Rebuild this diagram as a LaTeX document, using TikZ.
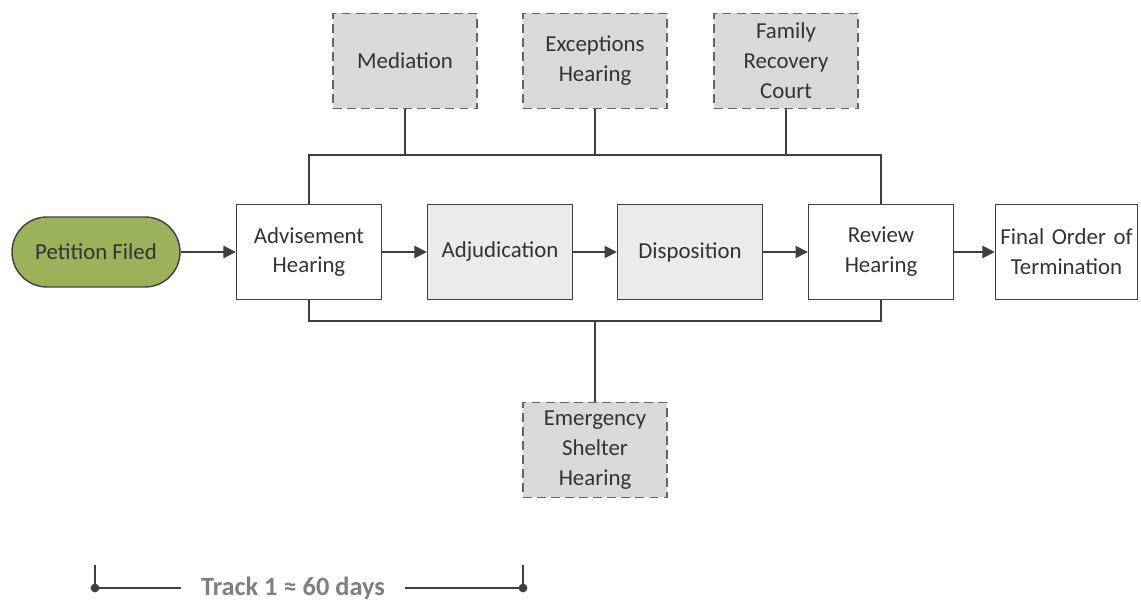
\documentclass[tikz,border=0pt]{standalone}
\usepackage{fontspec}
\setmainfont{Carlito}
\definecolor{petgreen}{RGB}{155, 178, 90}
\definecolor{linegray}{RGB}{64, 64, 64}
\definecolor{boxgray}{RGB}{235, 235, 235}
\definecolor{optgray}{RGB}{217, 217, 217}
\definecolor{dashgray}{RGB}{100, 100, 100}
\definecolor{trackgray}{RGB}{127, 127, 127}
\usetikzlibrary{shapes, arrows.meta, positioning, calc}

\begin{document}
\begin{tikzpicture}[
  stage/.style={draw=linegray, thick, text width=2.6cm, align=center, minimum width=2.9cm, minimum height=1.9cm, inner sep=2pt, font=\fontsize{13}{17}\selectfont, text=black!80},
  optbox/.style={stage, draw=dashgray, dash pattern=on 5pt off 3pt, fill=optgray, minimum width=2.88cm},
  flow/.style={draw=linegray, thick, -{Triangle[length=7pt, width=7pt]}},
  bus/.style={draw=linegray, thick}
]
  \useasboundingbox (0, 0) rectangle (22.82, 12.22);

  % main track
  \node[draw=linegray, thick, fill=petgreen, rounded corners=0.7cm, minimum width=3.36cm, minimum height=1.4cm, font=\fontsize{13}{17}\selectfont, text=black!80] (petition) at (1.92, 7.18) {Petition Filed};
  \node[stage] (advise) at (6.18, 7.18) {Advisement\\Hearing};
  \node[stage, fill=boxgray] (adjud) at (10.0, 7.18) {Adjudication};
  \node[stage, fill=boxgray] (dispo) at (13.8, 7.18) {Disposition};
  \node[stage] (review) at (17.62, 7.18) {Review\\Hearing};
  \node[stage, minimum width=2.76cm, text width=2.7cm] (final) at (21.33, 7.18) {Final Order of\\Termination};

  % optional hearings
  \node[optbox] (mediat) at (8.1, 11.0) {Mediation};
  \node[optbox] (except) at (11.9, 11.0) {Exceptions\\Hearing};
  \node[optbox] (family) at (15.72, 11.0) {Family\\Recovery\\Court};
  \node[optbox] (shelter) at (11.9, 3.22) {Emergency\\Shelter\\Hearing};

  \draw[flow] (petition) -- (advise);
  \draw[flow] (advise) -- (adjud);
  \draw[flow] (adjud) -- (dispo);
  \draw[flow] (dispo) -- (review);
  \draw[flow] (review) -- (final);

  % buses
  \coordinate (topbus) at (11.9, 9.12);
  \coordinate (botbus) at (11.9, 5.8);
  \draw[bus] (advise.north) |- (topbus) -| (review.north);
  \draw[bus] (mediat.south) -- (mediat.south |- topbus);
  \draw[bus] (except.south) -- (topbus);
  \draw[bus] (family.south) -- (family.south |- topbus);
  \draw[bus] (advise.south) |- (botbus) -| (review.south);
  \draw[bus] (shelter.north) -- (botbus);

  % timeline
  \coordinate (trackL) at (1.9, 0.46);
  \coordinate (trackR) at (10.46, 0.46);
  \node[font=\bfseries\fontsize{15}{18}\selectfont, text=trackgray, inner xsep=0.4cm] (track) at (5.86, 0.46) {Track 1 ≈ 60 days};
  \draw[linegray, thick] (trackL) -- (track.west);
  \draw[linegray, thick] (track.east) -- (trackR);
  \draw[linegray, thick] (trackL) -- ++(0, 0.46);
  \draw[linegray, thick] (trackR) -- ++(0, 0.46);
  \fill[linegray] (trackL) circle (2.5pt);
  \fill[linegray] (trackR) circle (2.5pt);
\end{tikzpicture}
\end{document}
